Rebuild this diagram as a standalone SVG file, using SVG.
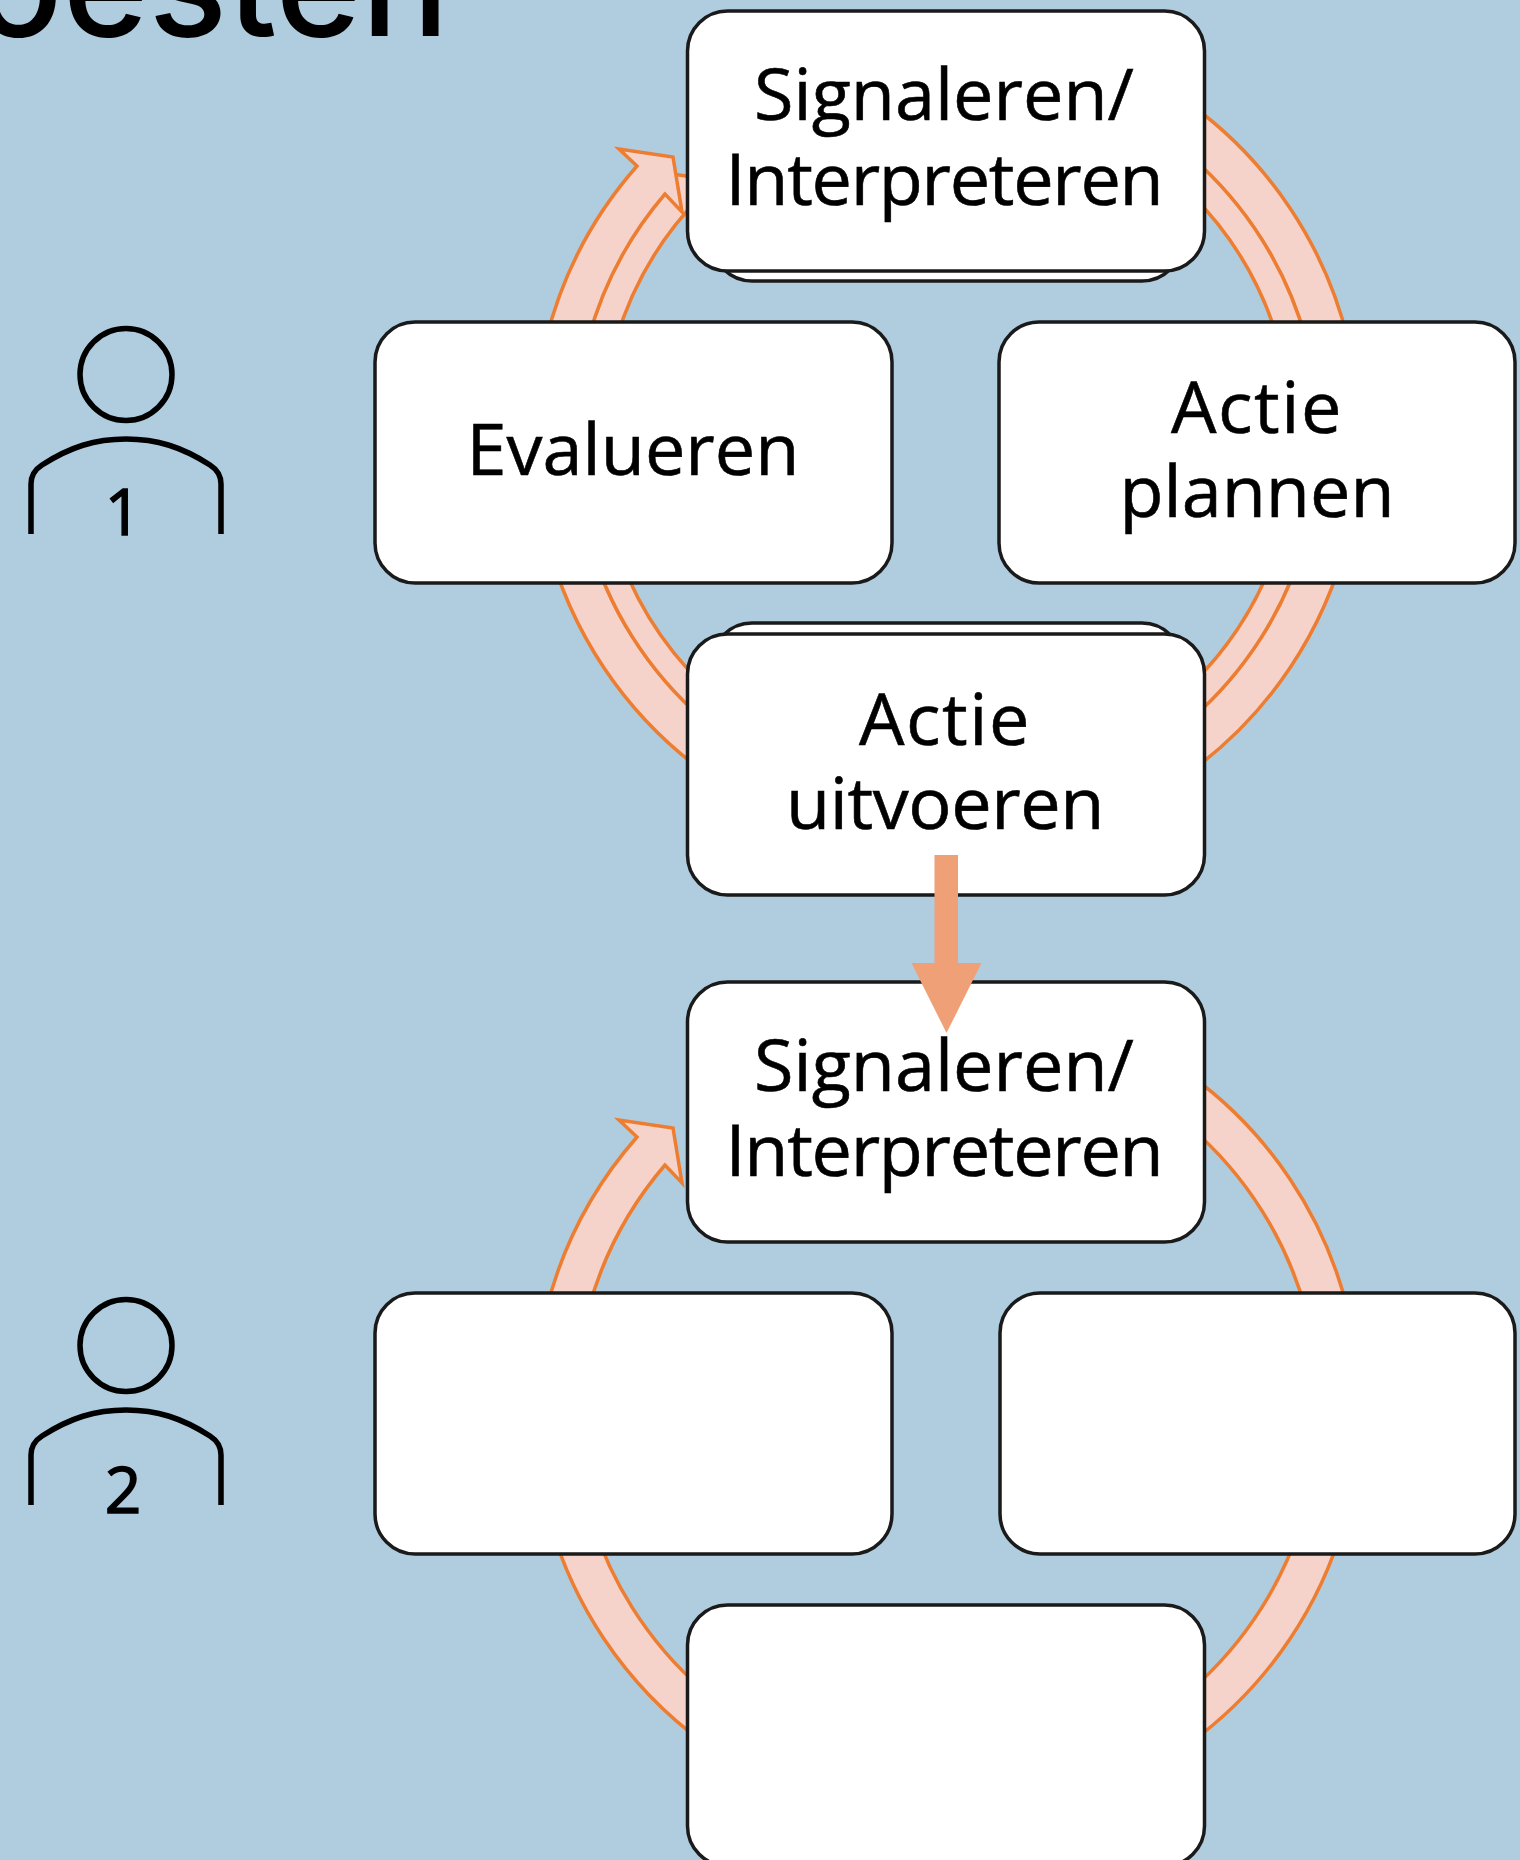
<svg xmlns="http://www.w3.org/2000/svg" width="1520" height="1860" viewBox="0 0 1520 1860">
<style>
.box{fill:#fff;stroke:#1a1a1a;stroke-width:3.500}
.band{fill:#f6d3ca;stroke:#ed7d31;stroke-width:3.500;stroke-linejoin:miter}
.lbl{font-family:"Open Sans","Liberation Sans",sans-serif;font-size:72px;fill:#000;text-anchor:middle;stroke:#000;stroke-width:.6}
.tight{letter-spacing:-1.300px}
.wide{letter-spacing:1.500px}
.icon{fill:none;stroke:#000;stroke-width:5.500}
</style>
<rect width="1520" height="1860" fill="#b0cddf"/>
<text id="title" x="449" y="36" font-family="Inter,'Liberation Sans',sans-serif" font-size="146" font-weight="500" fill="#000" text-anchor="end">oesten</text>
<g id="connectors">
<g id="cycle1">
<path class="band" d="M588 340A372 372 0 0 1 665 193L672 174L700 178L700 197A345 345 0 0 0 616 340Z"/>
<path class="band" d="M546 340A413 413 0 0 1 637 166L619 149L673 157L682 212L665 194A372 372 0 0 0 588 340Z"/>
<path class="band" d="M1190 104A413 413 0 0 1 1348 340L1306 340A372 372 0 0 0 1190 156Z"/>
<path class="band" d="M1190 156A372 372 0 0 1 1306 340L1278 340A345 345 0 0 0 1190 193Z"/>
<path class="band" d="M1348 536A413 413 0 0 1 1190 772L1190 720A372 372 0 0 0 1306 536Z"/>
<path class="band" d="M1306 536A372 372 0 0 1 1190 720L1190 686A348 348 0 0 0 1281 536Z"/>
<path class="band" d="M546 536A413 413 0 0 0 704 772L704 720A372 372 0 0 1 588 536Z"/>
<path class="band" d="M588 536A372 372 0 0 0 704 720L704 686A348 348 0 0 1 613 536Z"/>
</g>
<g id="cycle2" transform="translate(0,971)">
<path class="band" d="M546 340A413 413 0 0 1 637 166L619 149L673 157L682 212L665 194A372 372 0 0 0 588 340Z"/>
<path class="band" d="M1190 104A413 413 0 0 1 1348 340L1306 340A372 372 0 0 0 1190 156Z"/>
<path class="band" d="M1348 536A413 413 0 0 1 1190 772L1190 720A372 372 0 0 0 1306 536Z"/>
<path class="band" d="M546 536A413 413 0 0 0 704 772L704 720A372 372 0 0 1 588 536Z"/>
</g>
</g>
<g id="n-signal1-back"><rect class="box" x="712" y="60" width="470" height="221" rx="40"/></g>
<g id="n-signal1"><rect class="box" x="687.500" y="11" width="517" height="260" rx="40"/>
<text class="lbl" x="944" y="120">Signaleren/</text><text class="lbl tight" x="944" y="205">Interpreteren</text></g>
<g id="n-eval1"><rect class="box" x="375" y="322" width="517" height="261" rx="40"/>
<text class="lbl" x="633" y="475">Evalueren</text></g>
<g id="n-plan1"><rect class="box" x="999" y="322" width="516" height="261" rx="40"/>
<text class="lbl wide" x="1257" y="433">Actie</text><text class="lbl" x="1257" y="517">plannen</text></g>
<g id="n-do1-back"><rect class="box" x="712" y="623" width="470" height="200" rx="40"/></g>
<g id="n-do1"><rect class="box" x="687.500" y="634" width="517" height="261" rx="40"/>
<text class="lbl wide" x="945" y="745">Actie</text><text class="lbl" style="letter-spacing:-.4px" x="945" y="829">uitvoeren</text></g>
<g id="n-signal2"><rect class="box" x="687.500" y="982" width="517" height="260" rx="40"/>
<text class="lbl" x="944" y="1091">Signaleren/</text><text class="lbl tight" x="944" y="1176">Interpreteren</text></g>
<g id="n-eval2"><rect class="box" x="375" y="1293" width="517" height="261" rx="40"/></g>
<g id="n-plan2"><rect class="box" x="1000" y="1293" width="515" height="261" rx="40"/></g>
<g id="n-do2"><rect class="box" x="687.500" y="1605" width="517" height="261" rx="40"/></g>
<g id="link"><path fill="#f0a076" d="M934.500 855H958V963H981.500L946.500 1033L911.500 963H934.500Z"/></g>
<g id="person1"><circle class="icon" cx="126" cy="374.500" r="46"/>
<path class="icon" d="M31 534V484Q31 472 42 465C70 447 95 439 126 439C157 439 182 447 210 465Q221 472 221 484V534"/>
<text class="lbl" x="123" y="535" style="font-size:64px;stroke-width:1.500">1</text></g>
<g id="person2"><circle class="icon" cx="126" cy="1345.500" r="46"/>
<path class="icon" d="M31 1505V1455Q31 1443 42 1436C70 1418 95 1410 126 1410C157 1410 182 1418 210 1436Q221 1443 221 1455V1505"/>
<text class="lbl" x="123" y="1513" style="font-size:64px;stroke-width:1.500">2</text></g>
</svg>
